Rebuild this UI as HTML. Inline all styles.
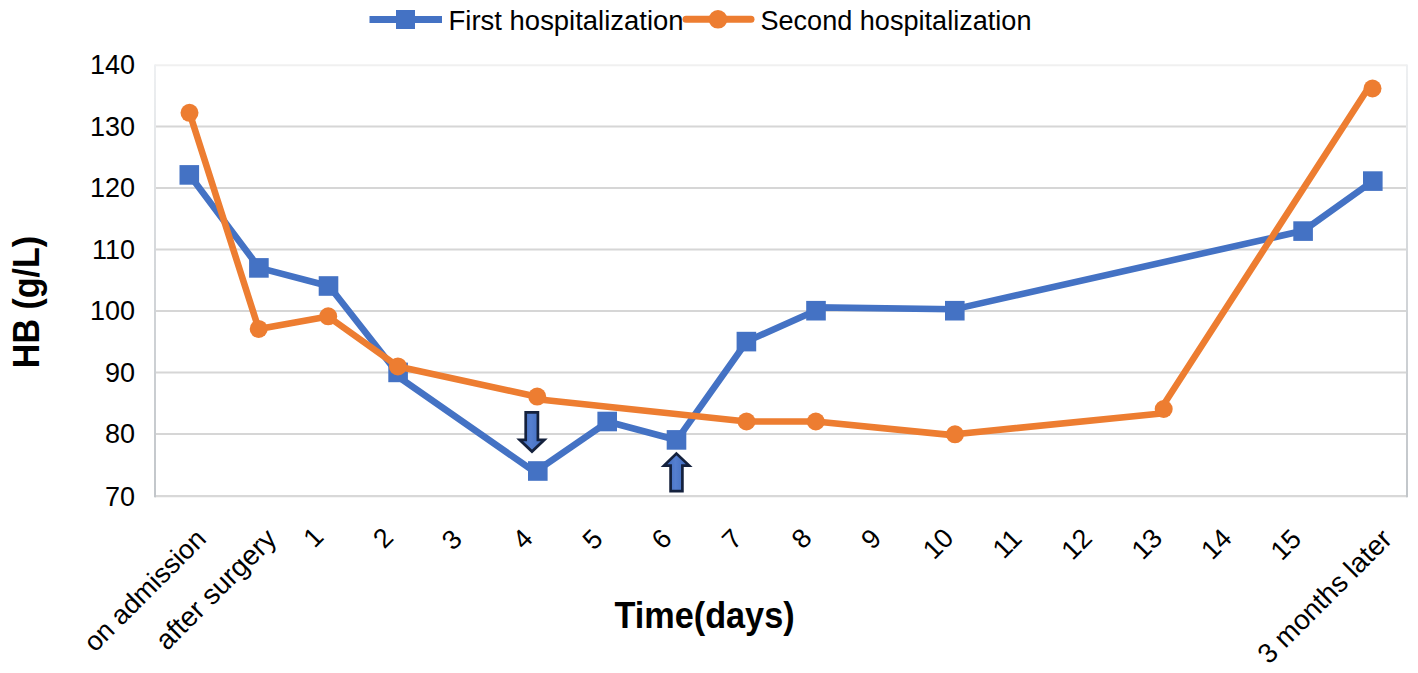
<!DOCTYPE html><html><head><meta charset="utf-8"><style>html,body{margin:0;padding:0;background:#fff;}svg{display:block;}text{font-family:"Liberation Sans",sans-serif;}</style></head><body>
<svg width="1418" height="673" viewBox="0 0 1418 673">
<rect x="0" y="0" width="1418" height="673" fill="#fff"/>
<defs><linearGradient id="fl" x1="0" y1="65" x2="0" y2="497" gradientUnits="userSpaceOnUse"><stop offset="0" stop-color="#eef0f2"/><stop offset="0.45" stop-color="#d4d7da"/><stop offset="1" stop-color="#c2c6ca"/></linearGradient></defs>
<line x1="155.0" y1="65.2" x2="1407.0" y2="65.2" stroke="#f0f0f0" stroke-width="2"/>
<line x1="155.0" y1="126.4" x2="1407.0" y2="126.4" stroke="#d6d6d6" stroke-width="2"/>
<line x1="155.0" y1="188.1" x2="1407.0" y2="188.1" stroke="#d6d6d6" stroke-width="2"/>
<line x1="155.0" y1="249.6" x2="1407.0" y2="249.6" stroke="#d6d6d6" stroke-width="2"/>
<line x1="155.0" y1="310.9" x2="1407.0" y2="310.9" stroke="#d6d6d6" stroke-width="2"/>
<line x1="155.0" y1="372.4" x2="1407.0" y2="372.4" stroke="#d6d6d6" stroke-width="2"/>
<line x1="155.0" y1="434.0" x2="1407.0" y2="434.0" stroke="#d6d6d6" stroke-width="2"/>
<line x1="155.0" y1="496.2" x2="1407.0" y2="496.2" stroke="#d8d8d8" stroke-width="2.2"/>
<rect x="154.0" y="64.5" width="2" height="432.8" fill="url(#fl)"/>
<rect x="1406.0" y="64.5" width="2" height="432.8" fill="url(#fl)"/>
<text x="135" y="74.4" font-size="27" text-anchor="end" fill="#000">140</text>
<text x="135" y="135.6" font-size="27" text-anchor="end" fill="#000">130</text>
<text x="135" y="197.2" font-size="27" text-anchor="end" fill="#000">120</text>
<text x="135" y="259.2" font-size="27" text-anchor="end" fill="#000">110</text>
<text x="135" y="320.4" font-size="27" text-anchor="end" fill="#000">100</text>
<text x="135" y="381.9" font-size="27" text-anchor="end" fill="#000">90</text>
<text x="135" y="443.4" font-size="27" text-anchor="end" fill="#000">80</text>
<text x="135" y="505.8" font-size="27" text-anchor="end" fill="#000">70</text>
<path d="M189.6,174.9 L259.2,267.9 M259.2,267.9 L328.5,286 M328.5,285.2 L398.2,374 M398.2,376.8 L537.8,474 M537.8,470 L607.2,422.3 M607.2,421.5 L676.6,440 M676.6,440.3 L746.4,342 M746.4,341.6 L816,310.4 M816,307.4 L954.9,309.3 M954.9,309.1 L1303.1,230.8 M1303.1,231 L1372.8,181.1" fill="none" stroke="#4472c4" stroke-width="6.6" stroke-linecap="round"/>
<rect x="179.5" y="165.1" width="19.6" height="19.6" fill="#4472c4"/>
<rect x="249.1" y="258.1" width="19.6" height="19.6" fill="#4472c4"/>
<rect x="318.7" y="276.2" width="19.6" height="19.6" fill="#4472c4"/>
<rect x="388.3" y="362.6" width="19.6" height="19.6" fill="#4472c4"/>
<rect x="528" y="461.2" width="19.6" height="19.6" fill="#4472c4"/>
<rect x="597.4" y="411.7" width="19.6" height="19.6" fill="#4472c4"/>
<rect x="666.7" y="430.1" width="19.6" height="19.6" fill="#4472c4"/>
<rect x="736.6" y="331.8" width="19.6" height="19.6" fill="#4472c4"/>
<rect x="806.2" y="300.9" width="19.6" height="19.6" fill="#4472c4"/>
<rect x="945" y="300.9" width="19.6" height="19.6" fill="#4472c4"/>
<rect x="1293.3" y="221.3" width="19.6" height="19.6" fill="#4472c4"/>
<rect x="1363" y="171.3" width="19.6" height="19.6" fill="#4472c4"/>
<path d="M189.5,112.8 L258.7,328.9 M258.7,328.9 L328.2,316.6 M328.2,316.6 L397.9,366.4 M397.9,366.6 L537.2,396.8 M537.2,399.2 L746.5,421.5 M746.5,421.5 L815.8,421.5 M815.8,421.5 L955,435.4 M955,434.3 L1163.7,413.2 M1160.5,409.5 L1368,88.5" fill="none" stroke="#ed7d31" stroke-width="6.6" stroke-linecap="round"/>
<circle cx="189.5" cy="112.8" r="9" fill="#ed7d31"/>
<circle cx="258.7" cy="328.9" r="9" fill="#ed7d31"/>
<circle cx="328.2" cy="316.3" r="9" fill="#ed7d31"/>
<circle cx="397.9" cy="366.4" r="9" fill="#ed7d31"/>
<circle cx="537.2" cy="396.6" r="9" fill="#ed7d31"/>
<circle cx="746.5" cy="421.5" r="9" fill="#ed7d31"/>
<circle cx="815.8" cy="421.5" r="9" fill="#ed7d31"/>
<circle cx="955" cy="434.3" r="9" fill="#ed7d31"/>
<circle cx="1163.7" cy="409" r="9" fill="#ed7d31"/>
<circle cx="1372.5" cy="88.5" r="9" fill="#ed7d31"/>
<defs><linearGradient id="ag" x1="0" y1="0" x2="1" y2="0"><stop offset="0" stop-color="#3b66b6"/><stop offset="0.45" stop-color="#557fd0"/><stop offset="1" stop-color="#3d69ba"/></linearGradient></defs>
<path d="M525.7,412.3 L537.9,412.3 L537.9,439.8 L544.4,439.8 L532,451.6 L519.6,439.8 L525.7,439.8 Z" fill="url(#ag)" stroke="#14213d" stroke-width="2.7" stroke-linejoin="miter"/>
<path d="M670.6,491.2 L682.4,491.2 L682.4,465.6 L689.2,465.6 L676.4,453.6 L664,465.6 L670.6,465.6 Z" fill="url(#ag)" stroke="#14213d" stroke-width="2.7" stroke-linejoin="miter"/>
<text class="xl" x="207.5" y="540.5" font-size="27" text-anchor="end" transform="rotate(-45 207.5 540.5)">on admission</text>
<text class="xl" x="278.18" y="540.4" font-size="28" text-anchor="end" transform="rotate(-45 278.18 540.4)">after surgery</text>
<text class="xl" x="325.26" y="538.3" font-size="27" text-anchor="end" transform="rotate(-45 325.26 538.3)">1</text>
<text class="xl" x="394.84" y="539" font-size="27" text-anchor="end" transform="rotate(-45 394.84 539)">2</text>
<text class="xl" x="463.52" y="540.8" font-size="27" text-anchor="end" transform="rotate(-45 463.52 540.8)">3</text>
<text class="xl" x="534.3" y="540" font-size="27" text-anchor="end" transform="rotate(-45 534.3 540)">4</text>
<text class="xl" x="604.38" y="540.6" font-size="27" text-anchor="end" transform="rotate(-45 604.38 540.6)">5</text>
<text class="xl" x="673.46" y="540" font-size="27" text-anchor="end" transform="rotate(-45 673.46 540)">6</text>
<text class="xl" x="743.84" y="540.3" font-size="27" text-anchor="end" transform="rotate(-45 743.84 540.3)">7</text>
<text class="xl" x="813.42" y="539.7" font-size="27" text-anchor="end" transform="rotate(-45 813.42 539.7)">8</text>
<text class="xl" x="882.8" y="540.2" font-size="27" text-anchor="end" transform="rotate(-45 882.8 540.2)">9</text>
<text class="xl" x="955.18" y="539.5" font-size="27" text-anchor="end" transform="rotate(-45 955.18 539.5)">10</text>
<text class="xl" x="1023.46" y="540.1" font-size="27" text-anchor="end" transform="rotate(-45 1023.46 540.1)">11</text>
<text class="xl" x="1093.74" y="539.9" font-size="27" text-anchor="end" transform="rotate(-45 1093.74 539.9)">12</text>
<text class="xl" x="1163.92" y="539.8" font-size="27" text-anchor="end" transform="rotate(-45 1163.92 539.8)">13</text>
<text class="xl" x="1233.4" y="539.8" font-size="27" text-anchor="end" transform="rotate(-45 1233.4 539.8)">14</text>
<text class="xl" x="1302.88" y="540.5" font-size="27" text-anchor="end" transform="rotate(-45 1302.88 540.5)">15</text>
<text class="xl" x="1393.46" y="540.8" font-size="27.8" text-anchor="end" transform="rotate(-45 1393.46 540.8)">3 months later</text>
<text x="0" y="0" font-size="37" font-weight="bold" text-anchor="middle" transform="translate(704.5 627.8) scale(0.926 1)">Time(days)</text>
<text x="0" y="0" font-size="37" font-weight="bold" text-anchor="middle" transform="translate(39 302) rotate(-90) scale(0.92 1)">HB (g/L)</text>
<line x1="369.5" y1="19.4" x2="442" y2="19.4" stroke="#4472c4" stroke-width="7"/>
<rect x="396" y="10" width="19" height="19" fill="#4472c4"/>
<text x="448.6" y="29.5" font-size="27" textLength="235" lengthAdjust="spacingAndGlyphs">First hospitalization</text>
<line x1="686" y1="19.3" x2="751" y2="19.3" stroke="#ed7d31" stroke-width="7" stroke-linecap="round"/>
<circle cx="718" cy="19.3" r="9.3" fill="#ed7d31"/>
<text x="760.4" y="29.5" font-size="27" textLength="271.1" lengthAdjust="spacingAndGlyphs">Second hospitalization</text>
</svg></body></html>
